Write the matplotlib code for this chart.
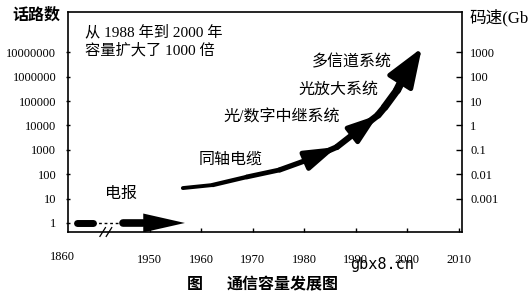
import matplotlib
matplotlib.use('Agg')
import matplotlib.pyplot as plt
import numpy as np
from matplotlib.collections import LineCollection
from matplotlib.patches import FancyArrowPatch

plt.rcParams['font.family'] = ['Liberation Serif', 'Noto Sans CJK SC']

# ---- data ----
left_ticks = [1, 10, 100, 1000, 10000, 100000, 1000000, 10000000]
left_labels = ['1', '10', '100', '1000', '10000', '100000', '1000000', '10000000']
right_ticks = [0.001, 0.01, 0.1, 1, 10, 100, 1000]
right_labels = ['0.001', '0.01', '0.1', '1', '10', '100', '1000']
x_ticks = [1950, 1960, 1970, 1980, 1990, 2000, 2010]
x_labels = ['1950', '1960', '1970', '1980', '1990', '2000', '2010']
first_label = '1860'
first_label_pos = 1933

# telegraph (电报): early blob, dotted gap, thick part, arrow tip
tele_blob_x = [1935.8, 1938.9]
tele_gap_x = [1938.9, 1944.8]
tele_body_x = [1944.8, 1948.6]
tele_tip_x = 1956.8
tele_y = 1

# main growth curve (同轴电缆 -> 多信道系统)
curve_years = [1956.4, 1962.2, 1968.8, 1975.2, 1980.5, 1986.3, 1989.8,
               1994.3, 1995.6, 1998.0, 1999.5, 2002.8]
curve_calls = [27, 36, 77, 150, 380, 1300, 4900, 26700, 57000, 280000,
               1.2e6, 1.5e7]
arrow_tip_idx = [5, 7, 11]

labels = ['电报', '同轴电缆', '光/数字中继系统', '光放大系统', '多信道系统']
label_x = [1944.4, 1965.7, 1975.6, 1986.7, 1989.2]
label_y = [15.5, 380, 2.2e4, 2.8e5, 4.0e6]

note = '从 1988 年到 2000 年\n容量扩大了 1000 倍'

# ---- figure ----
fig = plt.figure(figsize=(5.3, 2.94), dpi=100)
ax = fig.add_axes([68/530, 1-232/294, 394/530, 220/294])
ax.set_yscale('log')
ax.set_xlim(1934.1, 2010.6)
ylo, yhi = 10**-0.37, 10**8.65
ax.set_ylim(ylo, yhi)

for s in ['left', 'right', 'top', 'bottom']:
    ax.spines[s].set_linewidth(1.2)
    ax.spines[s].set_color('black')

ax.set_yticks(left_ticks)
ax.set_yticklabels(left_labels)
ax.yaxis.set_minor_locator(matplotlib.ticker.NullLocator())
ax.tick_params(axis='y', which='major', direction='inout', length=3,
               width=1, pad=7, labelsize=9)
ax.set_xticks(x_ticks)
ax.set_xticklabels(x_labels)
ax.tick_params(axis='x', direction='in', length=3, width=1, pad=16,
               labelsize=9)
ax.text(first_label_pos, -0.115, first_label, transform=ax.get_xaxis_transform(),
        ha='center', va='center', fontsize=9, clip_on=False)

ax2 = ax.twinx()
ax2.set_yscale('log')
ax2.set_ylim(ylo / 1e4, yhi / 1e4)
ax2.set_yticks(right_ticks)
ax2.set_yticklabels(right_labels)
ax2.yaxis.set_minor_locator(matplotlib.ticker.NullLocator())
ax2.tick_params(axis='y', direction='in', length=4, width=1, pad=6,
                labelsize=9)
for s in ['left', 'right', 'top', 'bottom']:
    ax2.spines[s].set_visible(False)

# axis break marks
for xo in [0.081, 0.097]:
    ax.plot([xo, xo + 0.014], [-0.02, 0.02], transform=ax.transAxes,
            color='black', lw=0.9, clip_on=False)

# telegraph
ax.plot(tele_blob_x, [tele_y]*2, color='black', lw=5, solid_capstyle='round')
ax.plot(tele_gap_x, [tele_y]*2, color='black', lw=1, ls=(0, (2, 2)))
ax.plot(tele_body_x, [tele_y]*2, color='black', lw=5.5, solid_capstyle='round')
ax.add_patch(FancyArrowPatch((tele_body_x[1], tele_y), (tele_tip_x, tele_y),
                             arrowstyle='-|>,head_length=3.0,head_width=0.68',
                             mutation_scale=10, color='black', lw=0,
                             shrinkA=0, shrinkB=0))

# main curve
pts = np.column_stack([np.array(curve_years), np.array(curve_calls)])
segs = [pts[i:i+2] for i in range(len(pts) - 2)]
lws = np.linspace(2.8, 5.8, len(segs))
lc = LineCollection(segs, colors='black', linewidths=lws, capstyle='round',
                    joinstyle='round')
ax.add_collection(lc)
head_specs = [(1.9, 0.6), (1.8, 0.62), (2.4, 0.9)]
for idx, (hl, hw) in zip(arrow_tip_idx, head_specs):
    ax.add_patch(FancyArrowPatch((curve_years[idx-1], curve_calls[idx-1]),
                                 (curve_years[idx], curve_calls[idx]),
                                 arrowstyle=f'-|>,head_length={hl},head_width={hw}',
                                 mutation_scale=10, color='black', lw=3.5,
                                 shrinkA=0, shrinkB=0, capstyle='round'))

# labels
for t, x, y in zip(labels, label_x, label_y):
    ax.text(x, y, t, ha='center', va='center', fontsize=11.5)

ax.text(0.042, 0.868, note, transform=ax.transAxes, ha='left', va='center',
        fontsize=11, linespacing=1.35)

# axis titles
fig.text(36/530, 1-16/294, '话路数', ha='center', va='center', fontsize=11.5,
         fontweight='bold')
fig.text(469/530, 1-18/294, '码速(Gb', ha='left', va='center', fontsize=12)

# caption
fig.text(195/530, 1-285/294, '图', ha='center', va='center', fontsize=11.5,
         fontweight='bold')
fig.text(283/530, 1-285/294, '通信容量发展图', ha='center', va='center',
         fontsize=11.5, fontweight='bold')
fig.text(382/530, 1-264/294, 'gbx8.cn', ha='center', va='center', fontsize=11,
         family='DejaVu Sans Mono')

fig.savefig('out.png', dpi=100)
